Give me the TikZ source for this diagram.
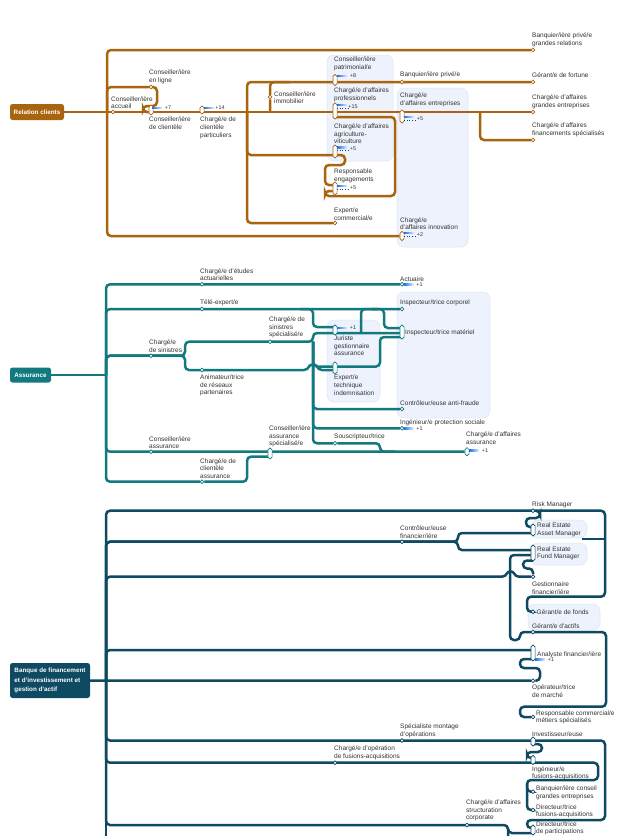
\documentclass[tikz,border=0pt]{standalone}
\usepackage{fontspec}
\setmainfont{Liberation Sans}
\usetikzlibrary{positioning,backgrounds}

\definecolor{rccol}{HTML}{A9640F}
\definecolor{ascol}{HTML}{127A7F}
\definecolor{bfcol}{HTML}{0F4A63}
\definecolor{hlfill}{HTML}{EDF2FC}
\definecolor{hldraw}{HTML}{DDE6F8}
\definecolor{morecol}{HTML}{1A6FE3}
\definecolor{txtcol}{HTML}{333333}

\pgfdeclarelayer{boxes}
\pgfdeclarelayer{lines}
\pgfsetlayers{boxes,lines,main}

% blue "more stops" mark: name, x, y, text
\newcommand{\morestops}[4]{%
  \shade[left color=morecol, right color=morecol!12] (#2,#3-0.7) rectangle (#2+10,#3+0.7);
  \node[plusnum] (#1) at (#2+16,#3) {#4};}
% same with a dotted line under it
\newcommand{\morestopsd}[4]{%
  \shade[left color=morecol, right color=morecol!12] (#2,#3-0.7) rectangle (#2+10,#3+0.7);
  \draw[morecol!60!black, dotted, line width=0.7pt] (#2,#3+3.5) -- (#2+11,#3+3.5);
  \node[plusnum] (#1) at (#2+16,#3+1.8) {#4};}

\begin{document}
\begin{tikzpicture}[x=1pt, y=-1pt,
    metro/.style={draw=#1, line width=2.5pt, rounded corners=4pt},
    stopdot/.style={circle, draw=#1, fill=white, line width=0.7pt, inner sep=0pt, minimum size=3.8pt},
    pillcap/.style={rectangle, rounded corners=1.9pt, draw=#1, fill=white, line width=0.7pt, inner sep=0pt, minimum width=4.2pt},
    lbl/.style={font=\fontsize{6.5}{7.6}\selectfont, text=txtcol, inner sep=0pt, align=left},
    plusnum/.style={font=\fontsize{5.4}{6}\selectfont, text=txtcol, inner sep=0pt},
    rootbox/.style={fill=#1, rounded corners=2.5pt, text=white, inner sep=0pt, align=left, font=\fontsize{6.3}{9.6}\selectfont\bfseries},
    hlbox/.style={fill=hlfill, draw=hldraw, line width=0.5pt, rounded corners=7pt},
  ]
  \useasboundingbox (0,0) rectangle (627,836);

  % highlight boxes
  \begin{pgfonlayer}{boxes}
    \fill[white] (0,0) rectangle (627,836);
    \draw[hlbox] (327,55) rectangle (393,161);
    \draw[hlbox] (397,88) rectangle (468,247);
    \draw[hlbox] (327,320) rectangle (380,402);
    \draw[hlbox] (397,292) rectangle (490,418);
    \draw[hlbox] (531,520) rectangle (587,538);
    \draw[hlbox] (531,543) rectangle (587,565);
    \draw[hlbox] (528,604) rectangle (600,630);
  \end{pgfonlayer}

  %%%%%%%% Relation clients
  \node[rootbox=rccol, minimum width=54pt, minimum height=16pt] (rc) at (37,112) {Relation clients};
  \coordinate (rcj) at (107,112);
  \coordinate (rcs) at (247,112);

  \node[stopdot=rccol] (sAccueil) at (113,112) {};
  \node[stopdot=rccol] (sEnLigne) at (151,87) {};
  \node[pillcap=rccol, minimum height=10pt] (cCli) at (151,110) {};
  \node[pillcap=rccol, minimum height=8pt] (cPart) at (202,110) {};
  \node[stopdot=rccol] (sImmo) at (270,97) {};
  \node[pillcap=rccol, minimum height=11pt] (cPat) at (335,80) {};
  \node[pillcap=rccol, minimum height=16pt] (cPro) at (335,111) {};
  \node[pillcap=rccol, minimum height=13pt] (cAgri) at (335,151.5) {};
  \node[pillcap=rccol, minimum height=13pt] (cEng) at (335,188.5) {};
  \node[stopdot=rccol] (sExpC) at (335,223) {};
  \node[stopdot=rccol] (sBP) at (402,82) {};
  \node[pillcap=rccol, minimum height=13pt] (cEnt) at (402,116.5) {};
  \node[pillcap=rccol, minimum height=9pt] (cInno) at (402,236) {};
  \node[stopdot=rccol] (sBPGR) at (533,50) {};
  \node[stopdot=rccol] (sGF) at (533,82) {};
  \node[stopdot=rccol] (sGE) at (533,112) {};
  \node[stopdot=rccol] (sFin) at (533,140) {};

  \begin{pgfonlayer}{lines}
    \draw[metro=rccol] (rc.east) -- (rcj);
    \draw[metro=rccol] (rcj) -- (sGE);
    \draw[metro=rccol] (rcj) |- (sBPGR);
    \draw[metro=rccol] (rcj) |- (sEnLigne) -- (157,87) -- (157,106) -- (143,106) -- (143,112) -- (150,112);
    \draw[metro=rccol] (rcj) |- (cInno);
    \draw[metro=rccol] (480,112) |- (sFin);
    \draw[metro=rccol] (rcs) |- (sGF);
    \draw[metro=rccol] (rcs) |- (345,155) -- (345,165) -- (325,165) -- (325,185) -- (335,185);
    \draw[metro=rccol] (rcs) |- (sExpC);
    \draw[metro=rccol] (270,112) -- (sImmo) -- (270,82) -- (290,82);
    \draw[metro=rccol] (335,117) -- (395,117) -- (395,196) -- (325,196) -- (325,191) -- (335,191);
  \end{pgfonlayer}

  \node[lbl, anchor=south west] (tEnLigne) at (149,84) {Conseiller/ière\\en ligne};
  \node[lbl, anchor=south west] (tAccueil) at (111,109) {Conseiller/ière\\accueil};
  \node[lbl, anchor=north west] (tCli) at (149,117) {Conseiller/ière\\de clientèle};
  \node[lbl, anchor=north west] (tPart) at (200,117) {Chargé/e de\\clientèle\\particuliers};
  \node[lbl, anchor=west] (tImmo) at (274,97.5) {Conseiller/ière\\immobilier};
  \node[lbl, anchor=south west] (tPat) at (334,71) {Conseiller/ière\\patrimonial/e};
  \node[lbl, anchor=south west] (tPro) at (334,102) {Chargé/e d'affaires\\professionnels};
  \node[lbl, anchor=south west] (tAgri) at (334,144) {Chargé/e d'affaires\\agriculture-\\viticulture};
  \node[lbl, anchor=south west] (tEng) at (334,183) {Responsable\\engagements};
  \node[lbl, anchor=south west] (tExpC) at (334,220.5) {Expert/e\\commercial/e};
  \node[lbl, anchor=south west] (tBP) at (400,78) {Banquier/ière privé/e};
  \node[lbl, anchor=south west] (tEnt) at (400,107) {Chargé/e\\d'affaires entreprises};
  \node[lbl, anchor=south west] (tInno) at (400,230) {Chargé/e\\d'affaires innovation};
  \node[lbl, anchor=south west] (tBPGR) at (532,47) {Banquier/ière privé/e\\grandes relations};
  \node[lbl, anchor=south west] (tGF) at (532,78) {Gérant/e de fortune};
  \node[lbl, anchor=south west] (tGE) at (532,109) {Chargé/e d'affaires\\grandes entreprises};
  \node[lbl, anchor=south west] (tFin) at (532,137) {Chargé/e d'affaires\\financements spécialisés};

  \morestops{pCli}{152}{107.7}{+7}
  \morestops{pPart}{204}{107.7}{+14}
  \morestops{pPat}{337}{76}{+8}
  \morestopsd{pPro}{337}{105}{+15}
  \morestopsd{pAgri}{337}{147.3}{+5}
  \morestopsd{pEng}{337}{185.7}{+5}
  \morestopsd{pEnt}{404}{116.7}{+5}
  \morestopsd{pInno}{404}{233}{+2}

  %%%%%%%% Assurance
  \node[rootbox=ascol, minimum width=41pt, minimum height=15pt] (as) at (30.5,375) {Assurance};
  \coordinate (asj) at (106,375);

  \node[stopdot=ascol] (sEtudes) at (202,284.3) {};
  \node[stopdot=ascol] (sAct) at (402,284.3) {};
  \node[stopdot=ascol] (sTele) at (202,309) {};
  \node[stopdot=ascol] (sCorp) at (402,309) {};
  \node[stopdot=ascol] (sSin) at (151,355.7) {};
  \node[stopdot=ascol] (sSpec) at (270,341.7) {};
  \node[stopdot=ascol] (sAnim) at (202,370) {};
  \node[pillcap=ascol, minimum height=10pt] (cJur) at (335,330) {};
  \node[pillcap=ascol, minimum height=14pt] (cMat) at (402,332) {};
  \node[pillcap=ascol, minimum height=12pt] (cExp) at (335,368) {};
  \node[stopdot=ascol] (sCtrl) at (402,409) {};
  \node[stopdot=ascol] (sIng) at (402,428.3) {};
  \node[stopdot=ascol] (sSous) at (335,443.3) {};
  \node[stopdot=ascol] (sConsA) at (151,451.7) {};
  \node[pillcap=ascol, minimum height=11pt] (cSpecA) at (270,453.5) {};
  \node[pillcap=ascol, minimum height=8pt] (cAff) at (467,451.7) {};
  \node[stopdot=ascol] (sCliA) at (202,481.7) {};

  \begin{pgfonlayer}{lines}
    \draw[metro=ascol] (as.east) -- (asj);
    \draw[metro=ascol] (asj) |- (sAct);
    \draw[metro=ascol] (asj) |- (sCorp);
    \draw[metro=ascol] (300,309) -- (313,309) -- (313,327) -- (335,327);
    \draw[metro=ascol] (361,333) -- (361,309) -- (378,309);
    \draw[metro=ascol] (372,309) -- (384,309) -- (384,328) -- (402,328);
    \draw[metro=ascol] (asj) |- (185,355.7) |- (313,341.7) |- (335,333) -- (402,333);
    \draw[metro=ascol] (asj) |- (185,355.7) |- (308,370)
      .. controls (310,364) and (316,364) .. (318,370) -- (335,370);
    \draw[metro=ascol] (335,366.5) -- (380,366.5) -- (380,337) -- (402,337);
    \draw[metro=ascol] (313,341.7) |- (335,366.5);
    \draw[metro=ascol] (313,341.7) |- (sCtrl);
    \draw[metro=ascol] (313,341.7) |- (sIng);
    \draw[metro=ascol] (313,341.7) |- (sSous) -- (380,443.3) -- (380,451.7) -- (395,451.7);
    \draw[metro=ascol] (asj) |- (cAff);
    \draw[metro=ascol] (asj) |- (sCliA) -- (247,481.7) -- (247,456.7) -- (270,456.7);
  \end{pgfonlayer}

  \node[lbl, anchor=south west] (tEtudes) at (200,281) {Chargé/e d'études\\actuarielles};
  \node[lbl, anchor=south west] (tAct) at (400,281.3) {Actuaire};
  \node[lbl, anchor=south west] (tTele) at (200,306) {Télé-expert/e};
  \node[lbl, anchor=south west] (tCorp) at (400,306.3) {Inspecteur/trice corporel};
  \node[lbl, anchor=south west] (tSin) at (149,352.7) {Chargé/e\\de sinistres};
  \node[lbl, anchor=south west] (tSpec) at (269,338.5) {Chargé/e de\\sinistres\\spécialisé/e};
  \node[lbl, anchor=north west] (tAnim) at (200,374.8) {Animateur/trice\\de réseaux\\partenaires};
  \node[lbl, anchor=north west] (tJur) at (334,335.5) {Juriste\\gestionnaire\\assurance};
  \node[lbl, anchor=west] (tMat) at (405,332.7) {Inspecteur/trice matériel};
  \node[lbl, anchor=north west] (tExp) at (334,375) {Expert/e\\technique\\indemnisation};
  \node[lbl, anchor=south west] (tCtrl) at (400,406) {Contrôleur/euse anti-fraude};
  \node[lbl, anchor=south west] (tIng) at (400,425.7) {Ingénieur/e protection sociale};
  \node[lbl, anchor=south west] (tSous) at (334,440.3) {Souscripteur/trice};
  \node[lbl, anchor=south west] (tConsA) at (149,449) {Conseiller/ière\\assurance};
  \node[lbl, anchor=south west] (tSpecA) at (269,447.5) {Conseiller/ière\\assurance\\spécialisé/e};
  \node[lbl, anchor=south west] (tCliA) at (200,478.5) {Chargé/e de\\clientèle\\assurance};
  \node[lbl, anchor=south west] (tAff) at (466,444.3) {Chargé/e d'affaires\\assurance};

  \morestops{pAct}{403.5}{284.3}{+1}
  \morestops{pJur}{337}{327.7}{+1}
  \morestops{pIng}{403.5}{428.3}{+1}
  \morestops{pAff}{469}{450.5}{+1}

  %%%%%%%% Banque de financement et d'investissement
  \node[rootbox=bfcol, minimum width=80pt, minimum height=35pt] (bf) at (50,680.5)
    {Banque de financement\\et d'investissement et\\gestion d'actif};
  \coordinate (bfj) at (106,680.7);

  \node[stopdot=bfcol] (sRisk) at (533,510.7) {};
  \node[pillcap=bfcol, minimum height=12pt] (cAsset) at (533,530) {};
  \node[pillcap=bfcol, minimum height=16pt] (cFund) at (533,553) {};
  \node[stopdot=bfcol] (sCtrlF) at (402,541.7) {};
  \node[stopdot=bfcol] (sGest) at (533,576.7) {};
  \node[stopdot=bfcol] (sFonds) at (533,611.7) {};
  \node[stopdot=bfcol] (sActifs) at (533,632) {};
  \node[pillcap=bfcol, minimum height=16pt] (cAna) at (533,653) {};
  \node[stopdot=bfcol] (sOp) at (533,680.7) {};
  \node[stopdot=bfcol] (sResp) at (533,717) {};
  \node[stopdot=bfcol] (sSpecM) at (402,740.5) {};
  \node[pillcap=bfcol, minimum height=9pt] (cInv) at (533,741.5) {};
  \node[stopdot=bfcol] (sOpeF) at (335,762.7) {};
  \node[pillcap=bfcol, minimum height=9pt] (cIng) at (533,760) {};
  \node[stopdot=bfcol] (sBCGE) at (533,791.7) {};
  \node[stopdot=bfcol] (sDirFA) at (533,810) {};
  \node[stopdot=bfcol] (sStruct) at (467,825) {};
  \node[pillcap=bfcol, minimum height=10pt] (cDirP) at (533,830) {};

  \begin{pgfonlayer}{lines}
    \draw[metro=bfcol] (bf.east) -- (bfj) -- (sOp);
    \draw[metro=bfcol] (bfj) -- (106,850);
    \draw[metro=bfcol] (bfj) |- (605,510.7) |- (527,596.7) |- (sFonds);
    \draw[metro=bfcol] (536,510.7) -- (540,510.7) -- (540,518) -- (526,518) -- (526,527) -- (533,527);
    \draw[metro=bfcol] (605,539) -- (582,539);
    \draw[metro=bfcol] (bfj) |- (458,541.7) |- (533,533);
    \draw[metro=bfcol] (bfj) |- (458,541.7) |- (533,550);
    \draw[metro=bfcol] (bfj) |- (506,576.7)
      .. controls (508,571) and (513,571) .. (515,576.7) -- (sGest);
    \draw[metro=bfcol] (533,560.5) -- (523,560.5) -- (523,568.5) -- (533,568.5) -- (sGest);
    \draw[metro=bfcol] (533,555) -| (510,640) -- (520,640) |- (606,632) |- (520,706.7) |- (sResp);
    \draw[metro=bfcol] (bfj) |- (533,650);
    \draw[metro=bfcol] (533,659) -- (520,659) -- (520,668) -- (540,668) -- (540,680.7) -- (sOp);
    \draw[metro=bfcol] (bfj) |- (605,740.5) |- (527,820) |- (533,828);
    \draw[metro=bfcol] (533,744) -- (542,744) -- (542,752) -- (527,752) -- (527,758) -- (533,758);
    \draw[metro=bfcol] (bfj) |- (598,762.7) |- (527,780) |- (sDirFA);
    \draw[metro=bfcol] (527,784) |- (sBCGE);
    \draw[metro=bfcol] (bfj) |- (508,825) -- (508,850);
    \draw[metro=bfcol] (508,829) |- (533,833);
  \end{pgfonlayer}

  \node[lbl, anchor=south west] (tRisk) at (532,508) {Risk Manager};
  \node[lbl, anchor=west] (tAsset) at (537,530) {Real Estate\\Asset Manager};
  \node[lbl, anchor=west] (tFund) at (537,553.3) {Real Estate\\Fund Manager};
  \node[lbl, anchor=south west] (tCtrlF) at (400,538.5) {Contrôleur/euse\\financier/ière};
  \node[lbl, anchor=north west] (tGest) at (532,581.5) {Gestionnaire\\financier/ière};
  \node[lbl, anchor=west] (tFonds) at (536.5,611.7) {Gérant/e de fonds};
  \node[lbl, anchor=south west] (tActifs) at (532,628.7) {Gérant/e d'actifs};
  \node[lbl, anchor=west] (tAna) at (537,654.3) {Analyste financier/ière};
  \node[lbl, anchor=north west] (tOp) at (532,684.8) {Opérateur/trice\\de marché};
  \node[lbl, anchor=west] (tResp) at (536,717.5) {Responsable commercial/e\\métiers spécialisés};
  \node[lbl, anchor=south west] (tSpecM) at (400,738) {Spécialiste montage\\d'opérations};
  \node[lbl, anchor=south west] (tInv) at (532,737) {Investisseur/euse};
  \node[lbl, anchor=south west] (tOpeF) at (334,759.7) {Chargé/e d'opération\\de fusions-acquisitions};
  \node[lbl, anchor=north west] (tIng2) at (532,766.4) {Ingénieur/e\\fusions-acquisitions};
  \node[lbl, anchor=west] (tBCGE) at (536,792.8) {Banquier/ière conseil\\grandes entreprises};
  \node[lbl, anchor=west] (tDirFA) at (536,811.4) {Directeur/trice\\fusions-acquisitions};
  \node[lbl, anchor=south west] (tStruct) at (466,821.5) {Chargé/e d'affaires\\structuration\\corporate};
  \node[lbl, anchor=north west, font=\fontsize{6.5}{7}\selectfont] (tDirP) at (536,822) {Directeur/trice\\de participations};

  \morestops{pAna}{535}{659.5}{+1}
\end{tikzpicture}
\end{document}
